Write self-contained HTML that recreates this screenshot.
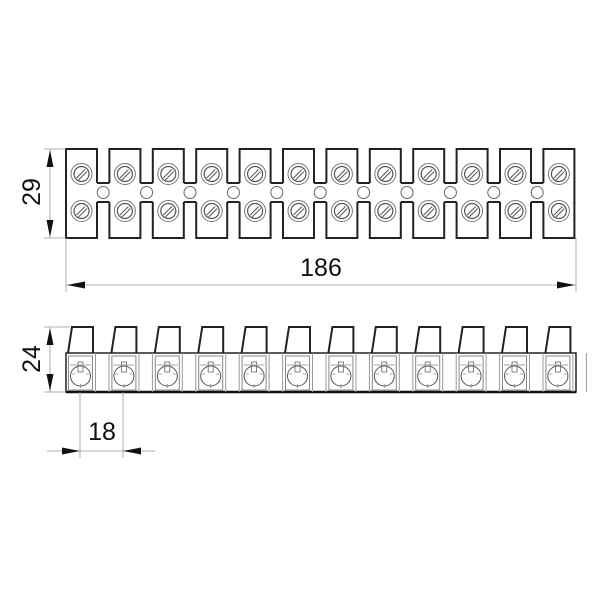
<!DOCTYPE html>
<html><head><style>html,body{margin:0;padding:0;background:#fff}svg{display:block}</style></head>
<body>
<svg width="600" height="600" viewBox="0 0 600 600" xmlns="http://www.w3.org/2000/svg" font-family="'Liberation Sans', 'DejaVu Sans', sans-serif">
<defs>
<g id="tb" fill="none">
  <path d="M0,183 V149 H31 V183 M0,202 V238 H31 V202" stroke="#222" stroke-width="2"/>
  <circle cx="15.5" cy="174" r="10.5" stroke="#777" stroke-width="1"/>
  <circle cx="15.5" cy="174" r="7.5" stroke="#555" stroke-width="1.2"/>
  <path d="M10.5,178 L19,169.5 M12.5,180 L21,171.5" stroke="#555" stroke-width="1"/>
  <circle cx="15.5" cy="211" r="10.5" stroke="#777" stroke-width="1"/>
  <circle cx="15.5" cy="211" r="7.5" stroke="#555" stroke-width="1.2"/>
  <path d="M10.5,215 L19,206.5 M12.5,217 L21,208.5" stroke="#555" stroke-width="1"/>
</g>
<g id="gap" fill="none">
  <path d="M31,183 H43.4 M31,202 H43.4" stroke="#222" stroke-width="2"/>
  <circle cx="37.2" cy="192.5" r="6" stroke="#666" stroke-width="1"/>
</g>
<g id="sb" fill="none">
  <path d="M2,353 L6,327 H27 V353" stroke="#222" stroke-width="2"/>
  <rect x="2.5" y="356" width="24" height="34" stroke="#888" stroke-width="1"/>
  <circle cx="14.5" cy="376" r="10" stroke="#555" stroke-width="1"/>
  <rect x="12" y="362" width="5" height="10" stroke="#666" stroke-width="0.8"/>
  <path d="M4,365 H25 M14.5,384 V388 M6,374 H9 M20,374 H23" stroke="#888" stroke-width="0.8"/>
  <path d="M29.5,353 V392 M43,353 V392" stroke="#999" stroke-width="1"/>
</g>
</defs>

<!-- top view -->
<g transform="translate(66,0)">
  <use href="#tb"/><use href="#tb" x="43.4"/><use href="#tb" x="86.8"/><use href="#tb" x="130.2"/>
  <use href="#tb" x="173.6"/><use href="#tb" x="217"/><use href="#tb" x="260.4"/><use href="#tb" x="303.8"/>
  <use href="#tb" x="347.2"/><use href="#tb" x="390.6"/><use href="#tb" x="434"/><use href="#tb" x="477.4"/>
  <use href="#gap"/><use href="#gap" x="43.4"/><use href="#gap" x="86.8"/><use href="#gap" x="130.2"/>
  <use href="#gap" x="173.6"/><use href="#gap" x="217"/><use href="#gap" x="260.4"/><use href="#gap" x="303.8"/>
  <use href="#gap" x="347.2"/><use href="#gap" x="390.6"/><use href="#gap" x="434"/>
  <path d="M0,182 V203 M508.4,182 V203" stroke="#222" stroke-width="2"/>
</g>

<!-- side view -->
<g transform="translate(66,0)">
  <rect x="0" y="353" width="510" height="39" fill="none" stroke="#222" stroke-width="1.5"/>
  <path d="M0,392 H510" stroke="#111" stroke-width="2.5"/>
  <use href="#sb"/><use href="#sb" x="43.4"/><use href="#sb" x="86.8"/><use href="#sb" x="130.2"/>
  <use href="#sb" x="173.6"/><use href="#sb" x="217"/><use href="#sb" x="260.4"/><use href="#sb" x="303.8"/>
  <use href="#sb" x="347.2"/><use href="#sb" x="390.6"/><use href="#sb" x="434"/><use href="#sb" x="477.4"/>
</g>

<!-- dimensions -->
<g stroke="#999" stroke-width="0.8" fill="none">
  <path d="M44,149 H66 M44,238 H66 M50,149 V238"/>
  <path d="M66,238 V292 M576,238 V292 M66,285 H576"/>
  <path d="M44,327 H70 M44,392 H66 M50,327 V392"/>
  <path d="M80,392 V458 M123,392 V458 M47,451 H155"/>
</g>
<g fill="#111">
  <path d="M50,150 L46.5,167 L53.5,167 Z M50,237 L46.5,220 L53.5,220 Z"/>
  <path d="M67,285 L85,281.5 L85,288.5 Z M575,285 L557,281.5 L557,288.5 Z"/>
  <path d="M50,328 L46.5,345 L53.5,345 Z M50,391 L46.5,374 L53.5,374 Z"/>
  <path d="M80,451 L62,447.5 L62,454.5 Z M123,451 L141,447.5 L141,454.5 Z"/>
</g>
<g fill="#111" font-size="25">
  <text x="321" y="276" text-anchor="middle">186</text>
  <text x="102" y="440" text-anchor="middle">18</text>
  <text transform="translate(40,192) rotate(-90)" text-anchor="middle">29</text>
  <text transform="translate(40,359) rotate(-90)" text-anchor="middle">24</text>
</g>
</svg>
</body></html>
